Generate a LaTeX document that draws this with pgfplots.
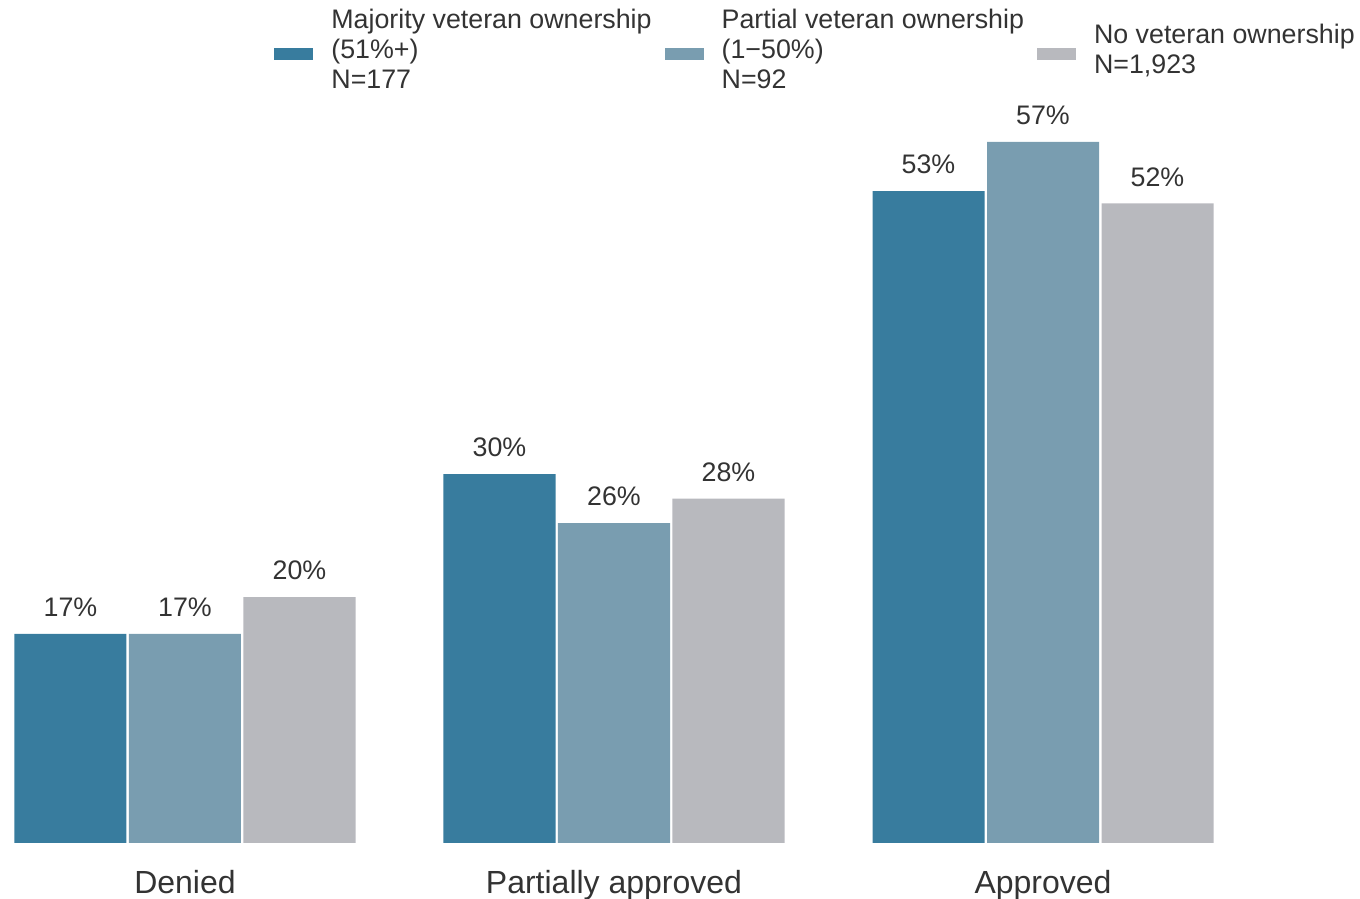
\documentclass[border=0pt]{standalone}
\usepackage{pgfplots}
\pgfplotsset{compat=1.18}
\usepackage{fontspec}
\setmainfont{Liberation Sans}
\definecolor{cA}{HTML}{387C9E}
\definecolor{cB}{HTML}{799DB0}
\definecolor{cC}{HTML}{B8B9BE}
\definecolor{txt}{HTML}{333333}
\begin{document}
\begin{tikzpicture}
\begin{axis}[
  scale only axis, width=680pt, height=421.5pt,
  xmin=-0.4312, xmax=2.7389, ymin=0, ymax=68.54,
  axis line style={draw=none},
  major tick length=0pt,
  ytick=\empty,
  xtick={0,1,2},
  xticklabels={Denied,Partially approved,Approved},
  x tick label style={font=\fontsize{16}{19}\selectfont, text=txt, yshift=-10pt},
  /pgf/number format/assume math mode=true,
  ybar, bar width=0.2611,
  clip=false,
  nodes near coords={\pgfmathprintnumber{\pgfplotspointmeta}\%},
  nodes near coords style={font=\fontsize{13.4}{16}\selectfont, text=txt, yshift=5pt},
  legend columns=3,
  legend style={at={(axis cs:0.2075,68.54)}, anchor=north west, draw=none, fill=none,
    font=\fontsize{13.4}{15}\selectfont, text=txt,
    cells={anchor=west, align=left},
    /tikz/every even column/.append style={column sep=4.5pt},
    inner sep=0pt, yshift=-2.5pt},
  legend image code/.code={\fill[#1] (0pt,-4.5pt) rectangle (19.5pt,1.5pt); \path (26.5pt,3pt) (26.5pt,-3pt);},
]
\addplot[fill=cA, draw=none, bar shift=-0.2669] coordinates {(0,17) (1,30) (2,53)};
\addplot[fill=cB, draw=none, bar shift=0] coordinates {(0,17) (1,26) (2,57)};
\addplot[fill=cC, draw=none, bar shift=0.2669] coordinates {(0,20) (1,28) (2,52)};
\legend{{Majority veteran ownership\\(51\%+)\\N=177},{Partial veteran ownership\\(1−50\%)\\N=92},{No veteran ownership\\N=1,923}}
\end{axis}
\pgfresetboundingbox
\path (0,-28pt) rectangle (680pt,421.5pt);
\end{tikzpicture}
\end{document}
